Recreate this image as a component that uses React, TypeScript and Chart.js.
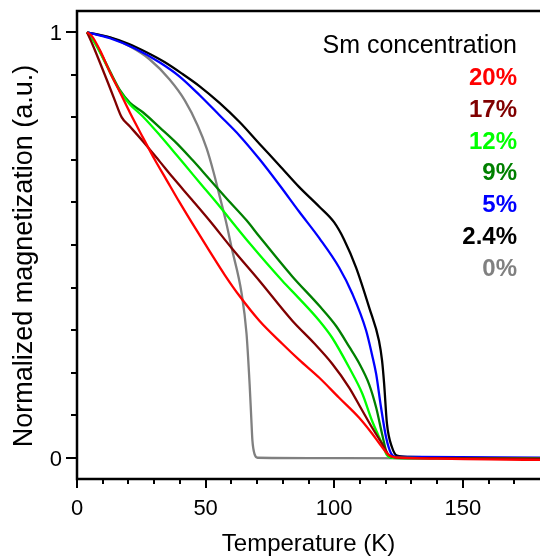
import React, { useEffect, useRef } from "react";
import { Chart, registerables } from "chart.js";
Chart.register(...registerables);

// ---- data ----
const seriesLabels = ["20%", "17%", "12%", "9%", "5%", "2.4%", "0%"];
const seriesColors = ["#ff0000", "#800000", "#00ff00", "#008000", "#0000ff", "#000000", "#808080"];

const redT = [3.9, 5.8, 8.9, 12.8, 16.7, 20.5, 25.6, 30.2, 34.9, 39.9, 44.6, 51.6, 57.4, 63.2, 70.9, 79.8, 86.4, 94.2, 101.9, 109.7, 114.7, 118.6, 121.3, 125.2, 140, 160, 180];
const redM = [1.0, 0.991, 0.958, 0.906, 0.859, 0.812, 0.753, 0.701, 0.652, 0.6, 0.553, 0.485, 0.43, 0.38, 0.322, 0.268, 0.23, 0.188, 0.141, 0.094, 0.057, 0.025, 0.006, 0.0, -0.002, -0.004, -0.005];

const darkRedT = [3.9, 6.2, 8.9, 12.0, 14.7, 17.4, 20.5, 25.6, 32.2, 37.2, 44.6, 51.6, 60.5, 70.9, 83.7, 92.2, 99.2, 105.8, 110.9, 114.7, 118.6, 121.3, 125.2, 140, 180];
const darkRedM = [1.0, 0.969, 0.929, 0.882, 0.84, 0.8, 0.779, 0.744, 0.696, 0.659, 0.607, 0.557, 0.49, 0.416, 0.322, 0.269, 0.221, 0.165, 0.111, 0.071, 0.033, 0.006, 0.0, -0.001, -0.002];

const limeT = [3.9, 7.0, 10.1, 13.6, 16.7, 20.5, 25.6, 32.2, 38.8, 45.0, 49.6, 53.5, 67.1, 79.8, 86.4, 94.2, 99.2, 105.8, 110.9, 114.7, 118.6, 120.5, 122.5, 140, 180];
const limeM = [1.0, 0.974, 0.939, 0.896, 0.861, 0.831, 0.802, 0.758, 0.711, 0.666, 0.633, 0.605, 0.504, 0.416, 0.374, 0.322, 0.282, 0.212, 0.151, 0.087, 0.033, 0.006, 0.0, -0.001, -0.002];

const greenT = [3.9, 7.0, 10.1, 13.6, 16.7, 20.5, 25.6, 32.2, 38.8, 45.0, 51.6, 58.5, 65.9, 70.9, 83.7, 94.2, 100.8, 105.8, 109.7, 113.6, 116.3, 118.6, 120.5, 122.5, 140, 180];
const greenM = [1.0, 0.976, 0.941, 0.899, 0.864, 0.835, 0.812, 0.776, 0.739, 0.699, 0.654, 0.607, 0.558, 0.52, 0.426, 0.357, 0.309, 0.261, 0.222, 0.172, 0.118, 0.056, 0.01, 0.0, -0.001, -0.002];

const blueT = [3.9, 12.8, 22.5, 32.2, 39.9, 47.7, 55.4, 63.2, 70.9, 78.7, 86.4, 94.2, 101.9, 107.0, 112.4, 114.7, 116.3, 118.2, 120.2, 122.1, 124.0, 133, 180];
const blueM = [1.0, 0.986, 0.962, 0.929, 0.896, 0.852, 0.805, 0.757, 0.702, 0.641, 0.578, 0.516, 0.447, 0.386, 0.299, 0.242, 0.197, 0.118, 0.047, 0.01, 0.002, 0.002, 0.0];

const blackT = [3.9, 12.8, 20.0, 27.0, 34.0, 41.0, 47.7, 55.4, 63.2, 70.9, 78.7, 86.4, 94.2, 100.0, 103.9, 108.5, 113.6, 117.4, 118.6, 119.4, 120.5, 122.5, 124.4, 129, 145, 180];
const blackM = [1.0, 0.988, 0.973, 0.953, 0.93, 0.902, 0.873, 0.834, 0.789, 0.738, 0.687, 0.636, 0.59, 0.553, 0.512, 0.447, 0.353, 0.275, 0.228, 0.174, 0.08, 0.024, 0.005, 0.002, 0.0, -0.002];

const grayT = [3.9, 12.8, 20.5, 28.3, 36.0, 41.9, 46.9, 50.4, 53.1, 55.4, 57.8, 60.1, 64.0, 65.9, 67.1, 67.8, 68.2, 69.0, 70.2, 100, 180];
const grayM = [1.0, 0.988, 0.967, 0.936, 0.889, 0.84, 0.781, 0.727, 0.671, 0.616, 0.558, 0.494, 0.386, 0.292, 0.174, 0.087, 0.04, 0.009, 0.0, -0.001, -0.002];

const seriesT = [redT, darkRedT, limeT, greenT, blueT, blackT, grayT];
const seriesM = [redM, darkRedM, limeM, greenM, blueM, blackM, grayM];

const xMajorTicks = [0, 50, 100, 150];
const xMinorTicks = [10, 20, 30, 40, 60, 70, 80, 90, 110, 120, 130, 140, 160, 170];
const yMajorTicks = [0, 1];
const yMinorTicks = [0.1, 0.2, 0.3, 0.4, 0.5, 0.6, 0.7, 0.8, 0.9];

const xTitle = "Temperature (K)";
const yTitle = "Normalized magnetization (a.u.)";
const legendTitle = "Sm concentration";

const FONT = '"Liberation Sans", Arial, sans-serif';

const decorPlugin = {
  id: "decor",
  afterDatasetsDraw(chart: any) {
    const { ctx, chartArea, scales } = chart;
    const xs = scales.x;
    const ys = scales.y;
    ctx.save();
    ctx.strokeStyle = "#000";
    ctx.lineWidth = 2.5;
    ctx.lineCap = "butt";
    ctx.beginPath();
    ctx.moveTo(chartArea.right + 5, chartArea.top);
    ctx.lineTo(chartArea.left, chartArea.top);
    ctx.lineTo(chartArea.left, chartArea.bottom);
    ctx.lineTo(chartArea.right + 5, chartArea.bottom);
    ctx.stroke();

    ctx.lineWidth = 2;
    const xb = chartArea.bottom;
    const yl = chartArea.left;
    ctx.beginPath();
    for (const v of xMajorTicks) {
      const px = Math.round(xs.getPixelForValue(v));
      ctx.moveTo(px, xb);
      ctx.lineTo(px, xb + 9);
    }
    for (const v of xMinorTicks) {
      const px = Math.round(xs.getPixelForValue(v));
      ctx.moveTo(px, xb);
      ctx.lineTo(px, xb + 5);
    }
    for (const v of yMajorTicks) {
      const py = Math.round(ys.getPixelForValue(v));
      ctx.moveTo(yl, py);
      ctx.lineTo(yl - 11, py);
    }
    for (const v of yMinorTicks) {
      const py = Math.round(ys.getPixelForValue(v));
      ctx.moveTo(yl, py);
      ctx.lineTo(yl - 6, py);
    }
    ctx.stroke();

    ctx.fillStyle = "#000";
    ctx.font = `22px ${FONT}`;
    ctx.textAlign = "center";
    ctx.textBaseline = "alphabetic";
    for (const v of xMajorTicks) {
      ctx.fillText(String(v), xs.getPixelForValue(v), 515);
    }
    ctx.textAlign = "right";
    for (const v of yMajorTicks) {
      ctx.fillText(String(v), yl - 15, ys.getPixelForValue(v) + 8);
    }

    ctx.font = `24px ${FONT}`;
    ctx.textAlign = "center";
    ctx.fillText(xTitle, (chartArea.left + chartArea.right) / 2, 551);

    ctx.save();
    ctx.translate(32, 256);
    ctx.rotate(-Math.PI / 2);
    ctx.font = `27px ${FONT}`;
    ctx.textAlign = "center";
    ctx.fillText(yTitle, 0, 0);
    ctx.restore();

    ctx.textAlign = "right";
    ctx.font = `25px ${FONT}`;
    ctx.fillStyle = "#000";
    ctx.fillText(legendTitle, 517, 53);
    ctx.font = `bold 24px ${FONT}`;
    seriesLabels.forEach((lab, i) => {
      ctx.fillStyle = seriesColors[i];
      ctx.fillText(lab, 517, 85 + i * 31.8);
    });
    ctx.restore();
  },
};

export default function App() {
  const ref = useRef<HTMLCanvasElement>(null);
  useEffect(() => {
    if (!ref.current) return;
    const datasets = seriesLabels.map((lab, i) => ({
      label: lab,
      data: seriesT[i].map((t, j) => ({ x: t, y: seriesM[i][j] })),
      borderColor: seriesColors[i],
      backgroundColor: seriesColors[i],
      borderWidth: 2.3,
      pointRadius: 0,
      fill: false,
      cubicInterpolationMode: "monotone" as const,
    }));
    const chart = new Chart(ref.current, {
      type: "line",
      data: { datasets },
      options: {
        responsive: false,
        animation: false,
        devicePixelRatio: 1,
        layout: { padding: { left: 77, top: 11, right: 0, bottom: 78 } },
        plugins: { legend: { display: false }, tooltip: { enabled: false }, title: { display: false } },
        scales: {
          x: { type: "linear", min: 0, max: 180, display: false },
          y: { type: "linear", min: -0.05, max: 1.05, display: false },
        },
      },
      plugins: [decorPlugin],
    });
    return () => chart.destroy();
  }, []);
  return (
    <div style={{ position: "absolute", left: 0, top: 0, width: 540, height: 557, background: "#fff" }}>
      <canvas ref={ref} width={540} height={557} style={{ width: 540, height: 557, display: "block" }} />
    </div>
  );
}
